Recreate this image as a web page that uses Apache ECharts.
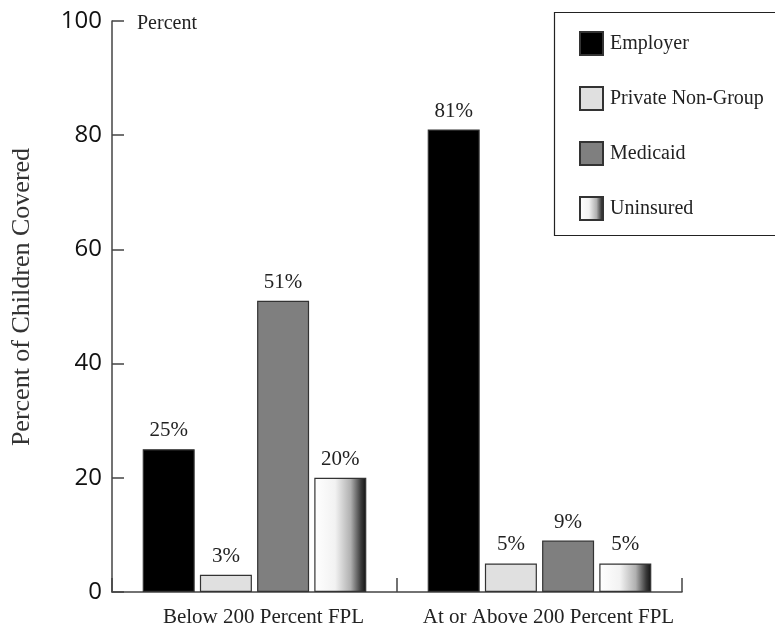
<!DOCTYPE html>
<html>
<head>
<meta charset="utf-8">
<script src="https://cdn.jsdelivr.net/npm/echarts@6/dist/echarts.min.js"></script>
<style>html,body{margin:0;padding:0;background:#fff}#c{width:775px;height:633px}</style>
</head>
<body>
<div id="c"></div>
<script>
var categories = ['Below 200 Percent FPL', 'At or Above 200 Percent FPL'];
var seriesNames = ['Employer', 'Private Non-Group', 'Medicaid', 'Uninsured'];
var employer = [25, 81];
var privateNonGroup = [3, 5];
var medicaid = [51, 9];
var uninsured = [20, 5];
var yTicks = [0, 20, 40, 60, 80, 100];

var serif = '"Liberation Serif", "DejaVu Serif", serif';
var sans = '"Open Sans", "Noto Sans", sans-serif';

var uninsuredGrad = new echarts.graphic.LinearGradient(0, 0, 1, 0, [
  {offset: 0, color: '#ffffff'},
  {offset: 0.4, color: '#f2f2f2'},
  {offset: 0.7, color: '#b0b0b0'},
  {offset: 0.9, color: '#3a3a3a'},
  {offset: 1, color: '#111111'}
]);
var fills = ['#000000', '#e0e0e0', '#7f7f7f', uninsuredGrad];
var values = [employer, privateNonGroup, medicaid, uninsured];

var chart = echarts.init(document.getElementById('c'));
var series = seriesNames.map(function (n, i) {
  return {
    name: n,
    type: 'bar',
    data: values[i],
    barWidth: 52,
    barGap: '10%',
    itemStyle: {color: fills[i], borderColor: '#333', borderWidth: 1.2},
    label: {
      show: true, position: 'top', distance: 8,
      formatter: '{c}%', fontFamily: serif, fontSize: 21, color: '#222'
    }
  };
});

chart.setOption({
  animation: false,
  backgroundColor: '#fff',
  grid: {left: 112, top: 21, width: 570, height: 571},
  legend: {
    orient: 'vertical', left: 574, top: 26,
    itemWidth: 23, itemHeight: 23, itemGap: 30,
    icon: 'rect',
    textStyle: {fontFamily: serif, fontSize: 20, color: '#222', padding: [4, 0, 0, 2]},
    data: seriesNames
  },
  xAxis: {
    type: 'category', data: categories,
    axisLine: {lineStyle: {color: '#444', width: 1.5}},
    axisTick: {show: true, interval: 0, alignWithLabel: false, inside: true, length: 14, lineStyle: {color: '#444', width: 1.5}},
    axisLabel: {interval: 0, fontFamily: serif, fontSize: 21, color: '#222', margin: 15, padding: [0, 0, 0, 18]}
  },
  yAxis: {
    type: 'value', min: yTicks[0], max: yTicks[yTicks.length - 1], interval: 20,
    axisLine: {show: true, lineStyle: {color: '#444', width: 1.5}},
    axisTick: {show: true, inside: true, length: 12, lineStyle: {color: '#444', width: 1.5}},
    axisLabel: {fontFamily: sans, fontSize: 24, color: '#111', margin: 10},
    splitLine: {show: false}
  },
  graphic: [
    {type: 'rect', left: 552, top: 10, shape: {width: 260, height: 223},
      style: {fill: 'none', stroke: '#222', lineWidth: 1.2}, z: 0},
    {type: 'text', left: 137, top: 14, style: {text: 'Percent', font: '20px ' + serif, fill: '#222'}},
    {type: 'text', x: 22, y: 297, rotation: Math.PI / 2,
      style: {text: 'Percent of Children Covered', font: '26px ' + serif, fill: '#333',
        textAlign: 'center', textVerticalAlign: 'middle'}}
  ],
  series: series
});
</script>
</body>
</html>
